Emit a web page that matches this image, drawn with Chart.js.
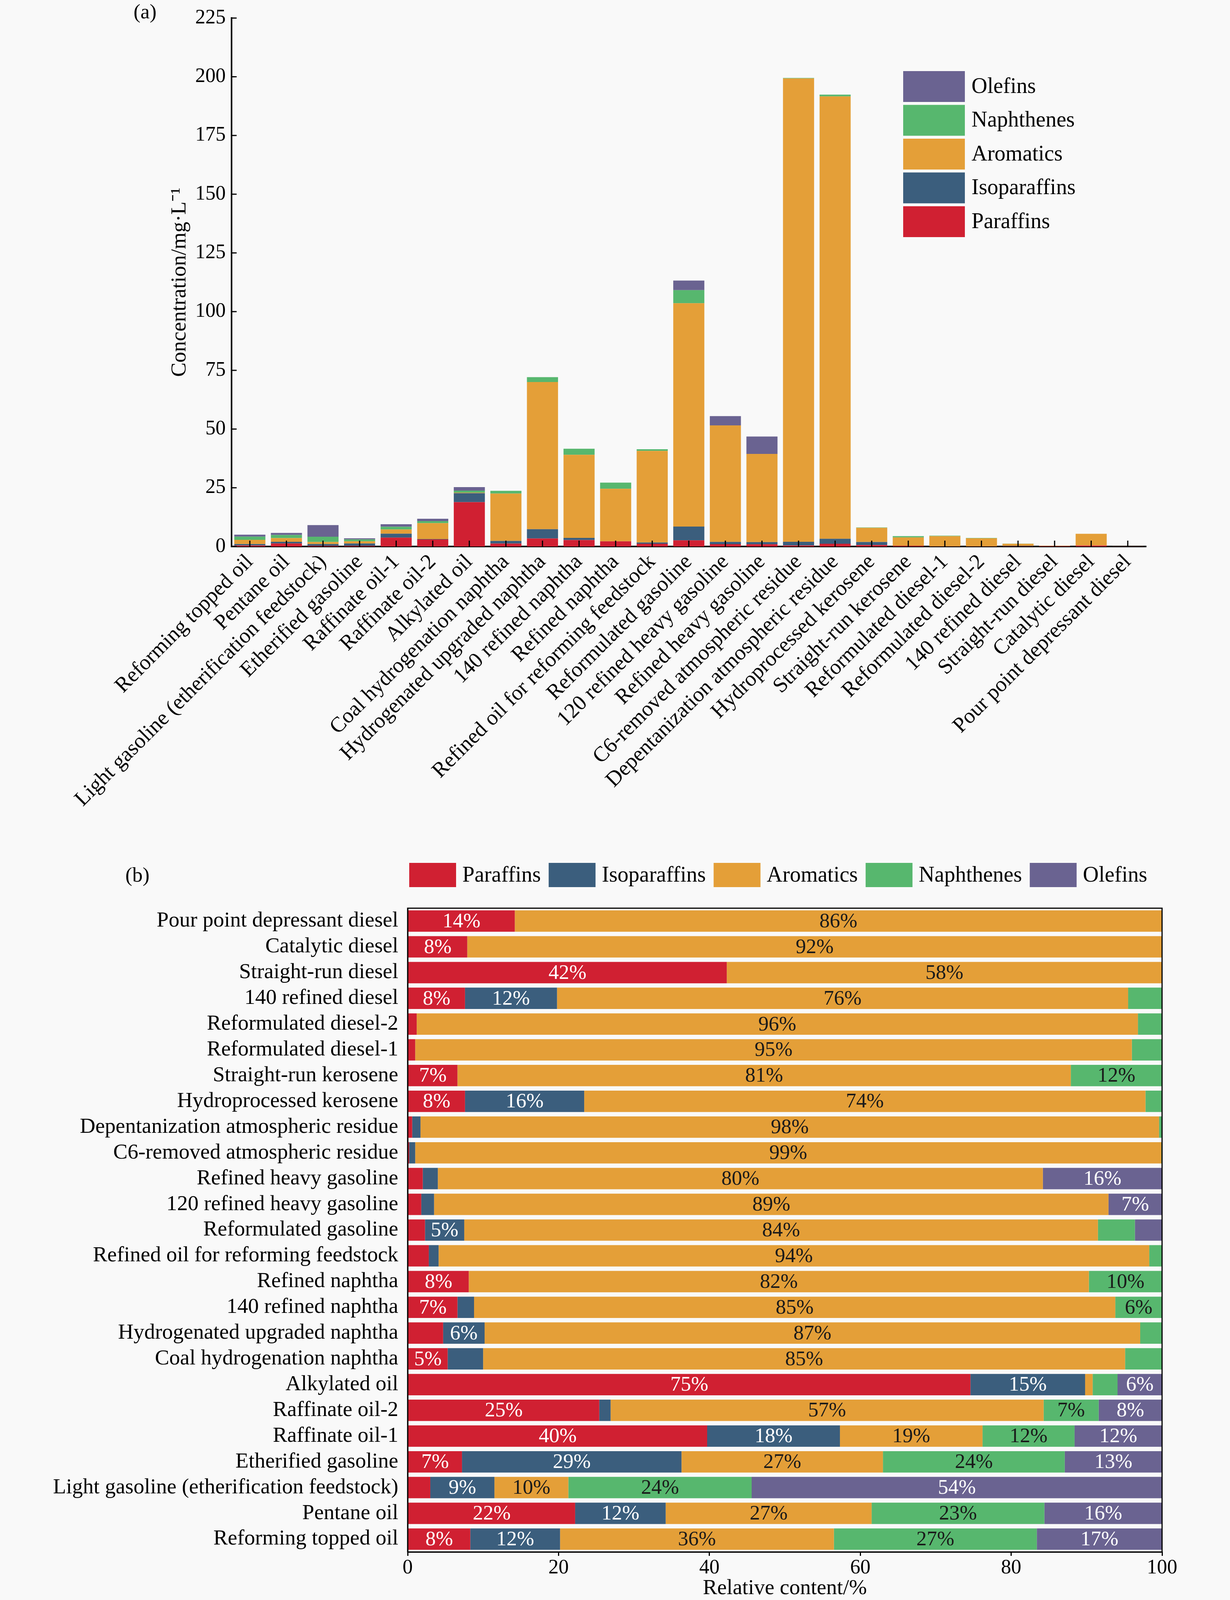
<!DOCTYPE html>
<html><head><meta charset="utf-8">
<script src="https://cdn.jsdelivr.net/npm/chart.js@4.4.1/dist/chart.umd.min.js"></script>
<style>
html,body{margin:0;padding:0;background:#f9f9f9;}
body{width:3150px;height:4100px;position:relative;overflow:hidden;}
#c1{position:absolute;left:0;top:0;}
#c2{position:absolute;left:0;top:2150px;}
</style></head><body>
<canvas id="c1" width="3150" height="2150"></canvas>
<canvas id="c2" width="3150" height="1950"></canvas>
<script>
// ---------------- DATA ----------------
const categories = [
  'Reforming topped oil','Pentane oil','Light gasoline (etherification feedstock)','Etherified gasoline',
  'Raffinate oil-1','Raffinate oil-2','Alkylated oil','Coal hydrogenation naphtha',
  'Hydrogenated upgraded naphtha','140 refined naphtha','Refined naphtha','Refined oil for reforming feedstock',
  'Reformulated gasoline','120 refined heavy gasoline','Refined heavy gasoline','C6-removed atmospheric residue',
  'Depentanization atmospheric residue','Hydroprocessed kerosene','Straight-run kerosene','Reformulated diesel-1',
  'Reformulated diesel-2','140 refined diesel','Straight-run diesel','Catalytic diesel','Pour point depressant diesel'
];
const seriesNames = ['Paraffins','Isoparaffins','Aromatics','Naphthenes','Olefins'];

// (a) concentration, mg/L
const concParaffins    = [0.42,1.29,0.27,0.25,3.78,3.00,18.87,1.26,3.39,2.75,2.20,1.16,2.60,1.00,0.94,0.40,1.15,0.62,0.29,0.05,0.04,0.09,0.13,0.43,0.01];
const concIsoparaffins = [0.60,0.70,0.77,1.02,1.66,0.17,3.85,1.11,3.97,0.92,0,0.54,5.89,0.94,0.94,1.60,2.12,1.28,0,0,0,0.15,0,0,0];
const concAromatics    = [1.82,1.58,0.89,0.93,1.80,6.77,0.25,20.17,62.65,35.36,22.36,39.00,95.09,49.62,37.53,197.30,188.36,6.03,3.58,4.37,3.44,0.91,0.17,4.97,0.09];
const concNaphthenes   = [1.35,1.33,2.21,0.84,1.16,0.86,0.83,1.16,2.09,2.58,2.64,0.70,5.55,0,0,0.20,0.77,0.18,0.53,0.18,0.12,0.05,0,0,0];
const concOlefins      = [0.83,0.90,4.95,0.45,1.10,1.00,1.49,0,0,0,0,0,4.08,3.94,7.39,0,0,0,0,0,0,0,0,0,0];
const concTicks = [0,25,50,75,100,125,150,175,200,225];

// (b) relative content, %
const pctParaffins    = [8.3,22.2,3.0,7.2,39.7,25.4,74.6,5.3,4.7,6.6,8.1,2.8,2.3,1.8,2.0,0.2,0.6,7.6,6.6,1.0,1.2,7.6,42.3,7.9,14.2];
const pctIsoparaffins = [11.9,12.0,8.5,29.1,17.6,1.5,15.2,4.7,5.5,2.2,0,1.3,5.2,1.7,2.0,0.8,1.1,15.8,0,0,0,12.2,0,0,0];
const pctAromatics    = [36.3,27.3,9.8,26.7,18.9,57.4,1.0,85.1,86.9,85.0,82.2,94.2,84.0,89.4,80.2,98.9,97.9,74.4,81.3,95.0,95.6,75.7,57.7,92.1,85.8];
const pctNaphthenes   = [26.9,22.9,24.3,24.1,12.2,7.3,3.3,4.9,2.9,6.2,9.7,1.7,4.9,0,0,0.1,0.4,2.2,12.1,4.0,3.2,4.5,0,0,0];
const pctOlefins      = [16.6,15.6,54.4,12.9,11.6,8.4,5.9,0,0,0,0,0,3.6,7.1,15.8,0,0,0,0,0,0,0,0,0,0];
const pctTicks = [0,20,40,60,80,100];

// ---------------- STYLE ----------------
const COLORS = ['#D02032','#3B5E7D','#E49F38','#57B76E','#6A6391'];
const LABEL_COLORS = ['#ffffff','#ffffff','#1a1a1a','#1a1a1a','#ffffff'];
const FONT = "'Liberation Serif','Times New Roman',serif";
const concSeries = [concParaffins,concIsoparaffins,concAromatics,concNaphthenes,concOlefins];
const pctSeries  = [pctParaffins,pctIsoparaffins,pctAromatics,pctNaphthenes,pctOlefins];

function panelLabel(text, x, y){
  return {id:'panel'+text, afterDraw(chart){
    const ctx=chart.ctx; ctx.save();
    ctx.font='53px '+FONT; ctx.fillStyle='#000'; ctx.textAlign='left'; ctx.textBaseline='middle';
    ctx.fillText(text,x,y); ctx.restore();
  }};
}

const innerTicks = {id:'innerTicks', afterDatasetsDraw(chart){
  const ctx=chart.ctx, a=chart.chartArea, xs=chart.scales.x, ys=chart.scales.y;
  ctx.save(); ctx.strokeStyle='#000'; ctx.lineWidth=3;
  xs.ticks.forEach((t,i)=>{const px=xs.getPixelForTick(i); ctx.beginPath(); ctx.moveTo(px,a.bottom); ctx.lineTo(px,a.bottom-15); ctx.stroke();});
  ys.ticks.forEach((t,i)=>{const py=ys.getPixelForTick(i); ctx.beginPath(); ctx.moveTo(a.left,py); ctx.lineTo(a.left+13,py); ctx.stroke();});
  ctx.restore();
}};

const legendA = {id:'legendA', afterDraw(chart){
  const ctx=chart.ctx; ctx.save();
  const ds=chart.data.datasets.slice().reverse();
  ctx.font='56px '+FONT; ctx.textBaseline='middle'; ctx.textAlign='left';
  ds.forEach((d,k)=>{
    const y=182+k*86.5;
    ctx.fillStyle=d.backgroundColor; ctx.fillRect(2313,y,158,79);
    ctx.fillStyle='#000'; ctx.fillText(d.label,2488,y+41);
  });
  ctx.restore();
}};

const legendB = {id:'legendB', afterDraw(chart){
  const ctx=chart.ctx; ctx.save();
  ctx.font='56px '+FONT; ctx.textBaseline='middle'; ctx.textAlign='left';
  let x=1048;
  chart.data.datasets.forEach(d=>{
    ctx.fillStyle=d.backgroundColor; ctx.fillRect(x,59,120,62);
    ctx.fillStyle='#000'; const tx=x+120+16; ctx.fillText(d.label,tx,92);
    x=tx+ctx.measureText(d.label).width+20;
  });
  ctx.restore();
}};

const frameB = {id:'frameB', afterDraw(chart){
  const ctx=chart.ctx, a=chart.chartArea; ctx.save();
  ctx.strokeStyle='#000'; ctx.lineWidth=3; ctx.strokeRect(a.left,a.top,a.right-a.left,a.bottom-a.top);
  ctx.restore();
}};

const pctLabels = {id:'pctLabels', afterDatasetsDraw(chart){
  const ctx=chart.ctx; ctx.save();
  ctx.font='53px '+FONT; ctx.textAlign='center'; ctx.textBaseline='middle';
  chart.data.datasets.forEach((d,i)=>{
    const meta=chart.getDatasetMeta(i);
    meta.data.forEach((bar,j)=>{
      const v=d.data[j]; if(v<5.1) return;
      ctx.fillStyle=LABEL_COLORS[i];
      ctx.fillText(Math.round(v)+'%',(bar.x+bar.base)/2,bar.y+2);
    });
  });
  ctx.restore();
}};

// ---------------- CHART (a) ----------------
new Chart(document.getElementById('c1'),{
  type:'bar',
  data:{labels:categories, datasets:seriesNames.map((n,i)=>({label:n,data:concSeries[i],backgroundColor:COLORS[i],borderWidth:0,barPercentage:0.85,categoryPercentage:1}))},
  options:{
    responsive:false, animation:false, devicePixelRatio:1,
    layout:{padding:{left:0,top:42,right:215,bottom:0}},
    plugins:{legend:{display:false},tooltip:{enabled:false}},
    scales:{
      x:{stacked:true, grid:{display:false,drawTicks:false}, border:{display:true,color:'#000',width:4},
        ticks:{autoSkip:false,minRotation:45,maxRotation:45,padding:8,color:'#000',font:{family:FONT,size:55}},
        afterFit:s=>{s.height=751;}},
      y:{stacked:true,min:0,max:225, grid:{display:false,drawTicks:false}, border:{display:true,color:'#000',width:4},
        afterBuildTicks:s=>{s.ticks=concTicks.map(v=>({value:v}));},
        ticks:{padding:15,color:'#000',font:{family:FONT,size:52}},
        title:{display:true,text:'Concentration/mg·L⁻¹',color:'#000',font:{family:FONT,size:55},padding:{top:428,bottom:0}},
        afterFit:s=>{s.width=593;}}
    }
  },
  plugins:[innerTicks,legendA,panelLabel('(a)',342,33)]
});

// ---------------- CHART (b) ----------------
new Chart(document.getElementById('c2'),{
  type:'bar',
  data:{labels:categories, datasets:seriesNames.map((n,i)=>({label:n,data:pctSeries[i],backgroundColor:COLORS[i],borderWidth:0,barPercentage:0.83,categoryPercentage:1}))},
  options:{
    indexAxis:'y', responsive:false, animation:false, devicePixelRatio:1,
    layout:{padding:{left:0,top:175,right:174,bottom:0}},
    plugins:{legend:{display:false},tooltip:{enabled:false}},
    scales:{
      x:{stacked:true,min:0,max:100,
        grid:{display:true,drawOnChartArea:false,drawTicks:true,tickLength:10,color:'#000',lineWidth:3},
        border:{display:true,color:'#000',width:3},
        afterBuildTicks:s=>{s.ticks=pctTicks.map(v=>({value:v}));},
        ticks:{padding:0,color:'#000',font:{family:FONT,size:52}},
        title:{display:true,text:'Relative content/%',color:'#000',font:{family:FONT,size:55,lineHeight:1},padding:{top:0,bottom:6}},
        afterFit:s=>{s.height=127;}},
      y:{stacked:true,reverse:true, grid:{display:false,drawTicks:false}, border:{display:true,color:'#000',width:3},
        ticks:{autoSkip:false,padding:24,color:'#000',font:{family:FONT,size:55}},
        afterFit:s=>{s.width=1044;}}
    }
  },
  plugins:[pctLabels,frameB,legendB,panelLabel('(b)',321,93)]
});
</script>
</body></html>
